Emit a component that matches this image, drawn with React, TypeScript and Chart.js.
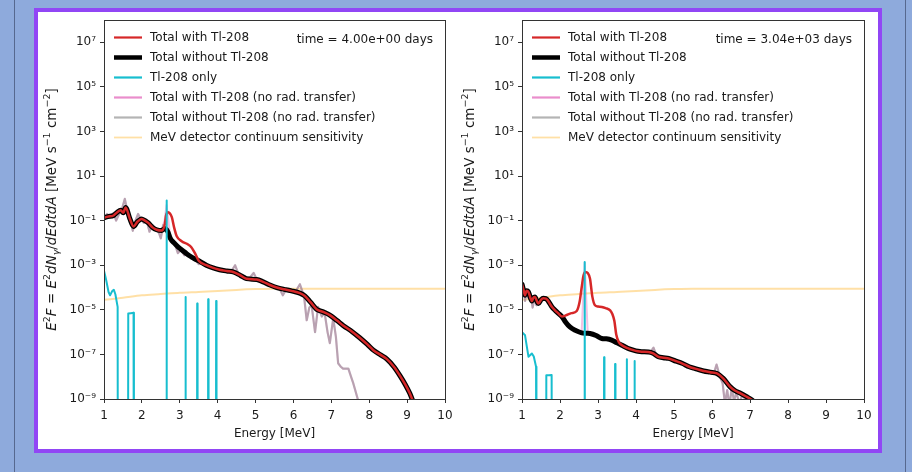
import React, { useEffect, useRef } from 'react';
import { Chart, registerables } from 'chart.js';

Chart.register(...registerables);

type Pt = [number, number];

// ---------- labels / ticks ----------
const xTickValues = [1, 2, 3, 4, 5, 6, 7, 8, 9, 10];
const yTickExponents = [-9, -7, -5, -3, -1, 1, 3, 5, 7];
const seriesLabels = [
  'Total with Tl-208',
  'Total without Tl-208',
  'Tl-208 only',
  'Total with Tl-208 (no rad. transfer)',
  'Total without Tl-208 (no rad. transfer)',
  'MeV detector continuum sensitivity',
];
const timeLabels = ['time = 4.00e+00 days', 'time = 3.04e+03 days'];
const xAxisTitle = 'Energy [MeV]';

// ---------- data: [energy MeV, E^2F] ----------
const sensitivity: Pt[] = [
  [1.0, 2.8e-5], [1.5, 3.5e-5], [2.0, 4.5e-5], [2.5, 5.1e-5], [3.0, 5.8e-5], [3.5, 6.3e-5],
  [4.0, 6.9e-5], [4.5, 7.8e-5], [5.0, 8.5e-5], [5.5, 8.9e-5], [6.0, 8.9e-5], [7.0, 8.9e-5],
  [8.0, 8.9e-5], [9.0, 8.9e-5], [10.0, 8.9e-5],
];

// Left panel (t = 4 days)
const leftTotalWith: Pt[] = [
  [1.0, 1.35e-1], [1.1, 1.51e-1], [1.25, 1.7e-1], [1.35, 2.4e-1], [1.44, 2.9e-1], [1.51, 2.24e-1],
  [1.57, 3.9e-1], [1.68, 1.26e-1], [1.78, 5.5e-2], [1.88, 8.9e-2], [1.99, 1.2e-1], [2.08, 1.0e-1],
  [2.17, 7.9e-2], [2.28, 5.0e-2], [2.39, 3.9e-2], [2.52, 3.6e-2], [2.6, 6.3e-2], [2.64, 1.78e-1],
  [2.68, 2.4e-1], [2.73, 2.2e-1], [2.79, 1.45e-1], [2.85, 5.0e-2], [2.92, 2.0e-2], [3.05, 1.2e-2],
  [3.2, 8.9e-3], [3.31, 6.3e-3], [3.4, 3.5e-3], [3.5, 1.6e-3], [3.7, 1.0e-3], [3.88, 7.6e-4],
  [4.05, 6.3e-4], [4.24, 5.5e-4], [4.41, 5.0e-4], [4.6, 3.5e-4], [4.76, 2.5e-4], [5.03, 2.3e-4],
  [5.2, 1.8e-4], [5.38, 1.3e-4], [5.56, 1.0e-4], [5.75, 8.3e-5], [5.95, 7.1e-5], [6.17, 5.6e-5],
  [6.3, 4.2e-5], [6.45, 2.2e-5], [6.61, 1.07e-5], [6.8, 7.9e-6], [6.96, 5.8e-6], [7.15, 3.3e-6],
  [7.31, 2.0e-6], [7.55, 1.05e-6], [7.75, 5.6e-7], [7.95, 2.8e-7], [8.11, 1.55e-7], [8.3, 9.5e-8],
  [8.46, 6.3e-8], [8.65, 2.8e-8], [8.81, 1.12e-8], [8.95, 4.5e-9], [9.07, 1.8e-9], [9.2, 5.0e-10],
];
const leftTotalWithout: Pt[] = [
  [1.0, 1.35e-1], [1.1, 1.51e-1], [1.25, 1.7e-1], [1.35, 2.4e-1], [1.44, 2.9e-1], [1.51, 2.24e-1],
  [1.57, 3.9e-1], [1.68, 1.26e-1], [1.78, 5.5e-2], [1.88, 8.9e-2], [1.99, 1.2e-1], [2.08, 1.0e-1],
  [2.17, 7.9e-2], [2.28, 5.0e-2], [2.39, 3.9e-2], [2.52, 3.6e-2], [2.6, 4.4e-2], [2.68, 3.3e-2],
  [2.75, 1.6e-2], [2.85, 1.0e-2], [2.96, 6.5e-3], [3.08, 4.5e-3], [3.18, 3.3e-3], [3.3, 2.4e-3],
  [3.4, 1.9e-3], [3.5, 1.6e-3], [3.7, 1.0e-3], [3.88, 7.6e-4],
  [4.05, 6.3e-4], [4.24, 5.5e-4], [4.41, 5.0e-4], [4.6, 3.5e-4], [4.76, 2.5e-4], [5.03, 2.3e-4],
  [5.2, 1.8e-4], [5.38, 1.3e-4], [5.56, 1.0e-4], [5.75, 8.3e-5], [5.95, 7.1e-5], [6.17, 5.6e-5],
  [6.3, 4.2e-5], [6.45, 2.2e-5], [6.61, 1.07e-5], [6.8, 7.9e-6], [6.96, 5.8e-6], [7.15, 3.3e-6],
  [7.31, 2.0e-6], [7.55, 1.05e-6], [7.75, 5.6e-7], [7.95, 2.8e-7], [8.11, 1.55e-7], [8.3, 9.5e-8],
  [8.46, 6.3e-8], [8.65, 2.8e-8], [8.81, 1.12e-8], [8.95, 4.5e-9], [9.07, 1.8e-9], [9.2, 5.0e-10],
];
const leftTlOnly: Pt[] = [
  [1.0, 5.6e-4], [1.05, 2.5e-4], [1.12, 6.3e-5], [1.16, 4.5e-5], [1.22, 7.1e-5], [1.26, 7.9e-5],
  [1.3, 5.0e-5], [1.36, 1.35e-5], [1.37, 1e-20], [1.63, 1e-20], [1.64, 6.8e-6], [1.71, 7.1e-6],
  [1.78, 7.4e-6], [1.79, 1e-20], [2.64, 1e-20], [2.65, 8.0e-1], [2.66, 1e-20], [3.14, 1e-20],
  [3.15, 3.8e-5], [3.16, 1e-20], [3.45, 1e-20], [3.46, 1.9e-5], [3.47, 1e-20], [3.74, 1e-20],
  [3.75, 2.95e-5], [3.76, 1e-20], [3.95, 1e-20], [3.96, 2.5e-5], [3.97, 1e-20], [10.0, 1e-20],
];
const leftWithNoRT: Pt[] = [
  [1.0, 1.12e-1], [1.08, 2.0e-1], [1.16, 1.41e-1], [1.25, 2.24e-1], [1.32, 1.0e-1], [1.4, 2.0e-1],
  [1.47, 3.16e-1], [1.55, 9.5e-1], [1.62, 2.5e-1], [1.7, 1.0e-1], [1.76, 3.5e-2], [1.83, 1.0e-1],
  [1.9, 2.0e-1], [1.98, 1.12e-1], [2.05, 7.9e-2], [2.12, 1.12e-1], [2.2, 3.2e-2], [2.28, 6.3e-2],
  [2.36, 4.5e-2], [2.45, 2.8e-2], [2.5, 1.6e-2], [2.56, 6.3e-2], [2.6, 1.0e-1], [2.65, 5.0e-1],
  [2.7, 1.0e-1], [2.74, 2.5e-2], [2.78, 1.12e-2], [2.86, 1.0e-2], [2.95, 3.5e-3], [3.03, 5.0e-3],
  [3.12, 2.8e-3], [3.2, 3.5e-3], [3.3, 2.0e-3], [3.4, 1.9e-3], [3.5, 1.12e-3], [3.6, 1.26e-3],
  [3.7, 8.9e-4], [3.85, 8.3e-4], [3.95, 6.3e-4], [4.1, 6.3e-4], [4.25, 5.0e-4], [4.35, 5.0e-4],
  [4.46, 1.0e-3], [4.55, 4.0e-4], [4.65, 3.5e-4], [4.75, 2.5e-4], [4.85, 2.8e-4], [4.95, 4.5e-4],
  [5.05, 2.0e-4], [5.15, 1.8e-4], [5.3, 1.41e-4], [5.4, 1.26e-4], [5.5, 1.0e-4], [5.62, 1.0e-4],
  [5.72, 4.5e-5], [5.82, 8.9e-5], [5.95, 7.1e-5], [6.05, 6.3e-5], [6.17, 1.41e-4], [6.28, 4.0e-5],
  [6.35, 3.4e-6], [6.42, 1.26e-5], [6.48, 1.6e-5], [6.57, 1.0e-6], [6.65, 1.35e-5], [6.75, 5.0e-6],
  [6.82, 7.9e-6], [6.9, 1.0e-6], [6.96, 3.2e-7], [7.05, 4.1e-6], [7.12, 6.3e-7], [7.18, 4.0e-8],
  [7.25, 2.8e-8], [7.31, 2.3e-8], [7.45, 2.3e-8], [7.52, 1.0e-8], [7.58, 5.0e-9], [7.68, 1.26e-9],
  [7.8, 2.5e-10],
];
const leftWithoutNoRT: Pt[] = [
  [1.0, 1.12e-1], [1.08, 2.0e-1], [1.16, 1.41e-1], [1.25, 2.24e-1], [1.32, 1.0e-1], [1.4, 2.0e-1],
  [1.47, 3.16e-1], [1.55, 9.5e-1], [1.62, 2.5e-1], [1.7, 1.0e-1], [1.76, 3.5e-2], [1.83, 1.0e-1],
  [1.9, 2.0e-1], [1.98, 1.12e-1], [2.05, 7.9e-2], [2.12, 1.12e-1], [2.2, 3.2e-2], [2.28, 6.3e-2],
  [2.36, 4.5e-2], [2.45, 2.8e-2], [2.5, 1.6e-2], [2.56, 6.3e-2], [2.62, 4.0e-2], [2.7, 3.2e-2],
  [2.78, 1.12e-2], [2.86, 1.0e-2], [2.95, 3.5e-3], [3.03, 5.0e-3],
  [3.12, 2.8e-3], [3.2, 3.5e-3], [3.3, 2.0e-3], [3.4, 1.9e-3], [3.5, 1.12e-3], [3.6, 1.26e-3],
  [3.7, 8.9e-4], [3.85, 8.3e-4], [3.95, 6.3e-4], [4.1, 6.3e-4], [4.25, 5.0e-4], [4.35, 5.0e-4],
  [4.46, 1.0e-3], [4.55, 4.0e-4], [4.65, 3.5e-4], [4.75, 2.5e-4], [4.85, 2.8e-4], [4.95, 4.5e-4],
  [5.05, 2.0e-4], [5.15, 1.8e-4], [5.3, 1.41e-4], [5.4, 1.26e-4], [5.5, 1.0e-4], [5.62, 1.0e-4],
  [5.72, 4.5e-5], [5.82, 8.9e-5], [5.95, 7.1e-5], [6.05, 6.3e-5], [6.17, 1.41e-4], [6.28, 4.0e-5],
  [6.35, 3.4e-6], [6.42, 1.26e-5], [6.48, 1.6e-5], [6.57, 1.0e-6], [6.65, 1.35e-5], [6.75, 5.0e-6],
  [6.82, 7.9e-6], [6.9, 1.0e-6], [6.96, 3.2e-7], [7.05, 4.1e-6], [7.12, 6.3e-7], [7.18, 4.0e-8],
  [7.25, 2.8e-8], [7.31, 2.3e-8], [7.45, 2.3e-8], [7.52, 1.0e-8], [7.58, 5.0e-9], [7.68, 1.26e-9],
  [7.8, 2.5e-10],
];

// Right panel (t = 3.04e3 days)
const rightTotalWith: Pt[] = [
  [1.0, 1.41e-4], [1.04, 7.9e-5], [1.08, 4.5e-5], [1.12, 7.1e-5], [1.17, 6.3e-5], [1.22, 3.5e-5],
  [1.26, 2.5e-5], [1.3, 3.5e-5], [1.34, 3.8e-5], [1.39, 2.5e-5], [1.43, 1.9e-5], [1.5, 2.8e-5],
  [1.56, 3.3e-5], [1.63, 3.2e-5], [1.69, 2.5e-5], [1.78, 1.41e-5], [1.87, 9.5e-6], [1.95, 7.1e-6],
  [2.05, 5.0e-6], [2.15, 5.6e-6], [2.3, 7.1e-6], [2.44, 8.9e-6], [2.52, 2.5e-5], [2.57, 1.0e-4],
  [2.62, 3.5e-4], [2.67, 5.0e-4], [2.73, 4.5e-4], [2.79, 2.5e-4], [2.85, 4.0e-5], [2.92, 1.6e-5],
  [3.0, 1.41e-5], [3.1, 1.35e-5], [3.2, 1.2e-5], [3.32, 9.5e-6], [3.38, 6.3e-6], [3.43, 3.2e-6],
  [3.48, 7.9e-7], [3.55, 3.5e-7], [3.63, 2.6e-7], [3.78, 1.9e-7], [3.93, 1.55e-7], [4.05, 1.38e-7],
  [4.15, 1.32e-7], [4.33, 1.29e-7], [4.45, 1.12e-7], [4.59, 7.8e-8], [4.72, 7.1e-8], [4.86, 6.6e-8],
  [5.05, 5.0e-8], [5.21, 4.0e-8], [5.4, 2.8e-8], [5.56, 2.3e-8], [5.78, 1.8e-8], [5.95, 1.6e-8],
  [6.13, 1.41e-8], [6.3, 8.3e-9], [6.48, 3.5e-9], [6.6, 2.4e-9], [6.75, 1.8e-9], [6.9, 1.3e-9],
  [7.05, 9.1e-10], [7.2, 5.0e-10],
];
const rightTotalWithout: Pt[] = [
  [1.0, 1.41e-4], [1.04, 7.9e-5], [1.08, 4.5e-5], [1.12, 7.1e-5], [1.17, 6.3e-5], [1.22, 3.5e-5],
  [1.26, 2.5e-5], [1.3, 3.5e-5], [1.34, 3.8e-5], [1.39, 2.5e-5], [1.43, 1.9e-5], [1.5, 2.8e-5],
  [1.56, 3.3e-5], [1.63, 3.2e-5], [1.69, 2.5e-5], [1.78, 1.41e-5], [1.87, 9.5e-6], [1.95, 7.1e-6],
  [2.05, 5.0e-6], [2.15, 2.8e-6], [2.26, 1.7e-6], [2.4, 1.2e-6], [2.57, 9.3e-7], [2.7, 8.9e-7],
  [2.79, 8.7e-7], [2.95, 7.1e-7], [3.1, 5.2e-7], [3.22, 5.0e-7], [3.36, 4.4e-7], [3.5, 3.3e-7],
  [3.63, 2.6e-7], [3.78, 1.9e-7], [3.93, 1.55e-7], [4.05, 1.38e-7],
  [4.15, 1.32e-7], [4.33, 1.29e-7], [4.45, 1.12e-7], [4.59, 7.8e-8], [4.72, 7.1e-8], [4.86, 6.6e-8],
  [5.05, 5.0e-8], [5.21, 4.0e-8], [5.4, 2.8e-8], [5.56, 2.3e-8], [5.78, 1.8e-8], [5.95, 1.6e-8],
  [6.13, 1.41e-8], [6.3, 8.3e-9], [6.48, 3.5e-9], [6.6, 2.4e-9], [6.75, 1.8e-9], [6.9, 1.3e-9],
  [7.05, 9.1e-10], [7.2, 5.0e-10],
];
const rightTlOnly: Pt[] = [
  [1.0, 1.0e-6], [1.08, 7.2e-7], [1.17, 7.9e-8], [1.26, 1.1e-7], [1.31, 8.0e-8], [1.37, 2.8e-8],
  [1.38, 1e-20], [1.63, 1e-20], [1.64, 1.17e-8], [1.71, 1.17e-8], [1.78, 1.2e-8], [1.79, 1e-20],
  [2.64, 1e-20], [2.65, 1.38e-3], [2.66, 1e-20], [3.15, 1e-20], [3.16, 7.4e-8], [3.17, 1e-20],
  [3.44, 1e-20], [3.45, 3.7e-8], [3.46, 1e-20], [3.75, 1e-20], [3.76, 6.0e-8], [3.77, 1e-20],
  [3.95, 1e-20], [3.96, 5.0e-8], [3.97, 1e-20], [10.0, 1e-20],
];
const rightWithNoRT: Pt[] = [
  [1.0, 5.0e-5], [1.04, 1.26e-4], [1.08, 2.5e-5], [1.13, 7.9e-5], [1.18, 3.2e-5], [1.23, 5.0e-5],
  [1.28, 1.26e-5], [1.33, 3.2e-5], [1.38, 1.6e-5], [1.45, 2.0e-5], [1.52, 3.2e-5], [1.6, 3.5e-5],
  [1.68, 2.0e-5], [1.75, 1.8e-5], [1.82, 1.0e-5], [1.9, 8.9e-6], [2.0, 5.0e-6], [2.1, 3.5e-6],
  [2.2, 2.0e-6], [2.3, 1.6e-6], [2.45, 1.12e-6], [2.57, 1.0e-6], [2.65, 1.3e-3], [2.73, 8.9e-7],
  [2.9, 7.9e-7], [3.05, 5.6e-7], [3.2, 5.0e-7], [3.3, 5.0e-7], [3.4, 4.0e-7], [3.55, 3.2e-7],
  [3.65, 2.8e-7], [3.8, 2.0e-7], [3.95, 1.6e-7], [4.1, 1.41e-7], [4.25, 1.41e-7], [4.38, 1.26e-7],
  [4.46, 2.0e-7], [4.55, 7.9e-8], [4.7, 7.9e-8], [4.85, 6.3e-8], [5.0, 5.6e-8], [5.1, 5.0e-8],
  [5.25, 3.5e-8], [5.4, 2.8e-8], [5.5, 2.2e-8], [5.6, 2.5e-8], [5.72, 1.8e-8], [5.85, 1.6e-8],
  [5.95, 1.8e-8], [6.05, 1.41e-8], [6.12, 3.5e-8], [6.2, 1.12e-8], [6.28, 5.0e-9], [6.34, 6.3e-10],
  [6.4, 2.5e-9], [6.46, 5.0e-10], [6.52, 3.2e-9], [6.58, 7.9e-10], [6.64, 2.0e-9], [6.72, 6.3e-10],
  [6.8, 1.6e-9], [6.9, 7.9e-10], [7.0, 5.0e-10],
];
const rightWithoutNoRT: Pt[] = [
  [1.0, 5.0e-5], [1.04, 1.26e-4], [1.08, 2.5e-5], [1.13, 7.9e-5], [1.18, 3.2e-5], [1.23, 5.0e-5],
  [1.28, 1.26e-5], [1.33, 3.2e-5], [1.38, 1.6e-5], [1.45, 2.0e-5], [1.52, 3.2e-5], [1.6, 3.5e-5],
  [1.68, 2.0e-5], [1.75, 1.8e-5], [1.82, 1.0e-5], [1.9, 8.9e-6], [2.0, 5.0e-6], [2.1, 3.5e-6],
  [2.2, 2.0e-6], [2.3, 1.6e-6], [2.45, 1.12e-6], [2.6, 8.9e-7], [2.75, 8.9e-7],
  [2.9, 7.9e-7], [3.05, 5.6e-7], [3.2, 5.0e-7], [3.3, 5.0e-7], [3.4, 4.0e-7], [3.55, 3.2e-7],
  [3.65, 2.8e-7], [3.8, 2.0e-7], [3.95, 1.6e-7], [4.1, 1.41e-7], [4.25, 1.41e-7], [4.38, 1.26e-7],
  [4.46, 2.0e-7], [4.55, 7.9e-8], [4.7, 7.9e-8], [4.85, 6.3e-8], [5.0, 5.6e-8], [5.1, 5.0e-8],
  [5.25, 3.5e-8], [5.4, 2.8e-8], [5.5, 2.2e-8], [5.6, 2.5e-8], [5.72, 1.8e-8], [5.85, 1.6e-8],
  [5.95, 1.8e-8], [6.05, 1.41e-8], [6.12, 3.5e-8], [6.2, 1.12e-8], [6.28, 5.0e-9], [6.34, 6.3e-10],
  [6.4, 2.5e-9], [6.46, 5.0e-10], [6.52, 3.2e-9], [6.58, 7.9e-10], [6.64, 2.0e-9], [6.72, 6.3e-10],
  [6.8, 1.6e-9], [6.9, 7.9e-10], [7.0, 5.0e-10],
];

// ---------- styling ----------
const FONT = '"DejaVu Sans", sans-serif';
const TEXT_COLOR = '#1a1a1a';
const AXIS_COLOR = '#333333';

const seriesStyles = [
  { color: '#d62728', legendColor: '#d62728', width: 2.5, legendWidth: 2.2, order: 1, smooth: true },
  { color: '#000000', legendColor: '#000000', width: 5, legendWidth: 4.5, order: 2, smooth: true },
  { color: '#17becf', legendColor: '#17becf', width: 2, legendWidth: 2.2, order: 0, smooth: false },
  { color: 'rgba(227,119,194,0.45)', legendColor: '#ea8dcc', width: 2, legendWidth: 2.2, order: 4, smooth: false },
  { color: 'rgba(127,127,127,0.5)', legendColor: '#b4b4b4', width: 2.2, legendWidth: 2.2, order: 3, smooth: false },
  { color: 'rgba(255,165,0,0.35)', legendColor: 'rgba(255,165,0,0.35)', width: 2, legendWidth: 1.8, order: 5, smooth: true },
];

const SUP: Record<string, string> = {
  '-': '\u207B', '0': '\u2070', '1': '\u00B9', '2': '\u00B2', '3': '\u00B3',
  '4': '\u2074', '5': '\u2075', '6': '\u2076', '7': '\u2077', '8': '\u2078', '9': '\u2079',
};
const toSup = (n: number) => String(n).split('').map((c) => SUP[c] ?? c).join('');

type Seg = { t: string; it?: boolean; sup?: boolean; sub?: boolean };
const yTitleSegs: Seg[] = [
  { t: 'E', it: true }, { t: '2', sup: true }, { t: 'F', it: true }, { t: ' = ' },
  { t: 'E', it: true }, { t: '2', sup: true }, { t: 'dN', it: true }, { t: '\u03B3', it: true, sub: true },
  { t: '/' }, { t: 'dEdtdA', it: true }, { t: ' [MeV s' }, { t: '\u22121', sup: true },
  { t: ' cm' }, { t: '\u22122', sup: true }, { t: ']' },
];

const decorPlugin = {
  id: 'decor',
  afterDraw(chart: any, _args: any, opts: any) {
    const { ctx, chartArea: a } = chart;
    ctx.save();
    // frame
    ctx.strokeStyle = AXIS_COLOR;
    ctx.lineWidth = 1;
    ctx.strokeRect(Math.round(a.left) + 0.5, Math.round(a.top) + 0.5, Math.round(a.right - a.left), Math.round(a.bottom - a.top));

    // legend
    ctx.font = `12px ${FONT}`;
    ctx.textBaseline = 'middle';
    ctx.textAlign = 'left';
    seriesLabels.forEach((lab, i) => {
      const st = seriesStyles[i];
      const y = a.top + 17.5 + i * 20;
      ctx.strokeStyle = st.legendColor;
      ctx.lineWidth = st.legendWidth;
      ctx.lineCap = 'butt';
      ctx.beginPath();
      ctx.moveTo(a.left + 10, y);
      ctx.lineTo(a.left + 38, y);
      ctx.stroke();
      ctx.fillStyle = TEXT_COLOR;
      ctx.fillText(lab, a.left + 46, y);
    });

    // time text
    ctx.textAlign = 'right';
    ctx.fillText(opts.time, a.right - 12, a.top + 20);

    // y title (rich text, rotated)
    const base = 13.5;
    const fontFor = (s: Seg) => `${s.it ? 'italic ' : ''}${s.sup || s.sub ? base * 0.7 : base}px ${FONT}`;
    let total = 0;
    const widths = yTitleSegs.map((s) => {
      ctx.font = fontFor(s);
      const w = ctx.measureText(s.t).width;
      total += w;
      return w;
    });
    ctx.translate(a.left - 48, (a.top + a.bottom) / 2);
    ctx.rotate(-Math.PI / 2);
    ctx.textAlign = 'left';
    ctx.textBaseline = 'alphabetic';
    let x = -total / 2;
    yTitleSegs.forEach((s, i) => {
      ctx.font = fontFor(s);
      const dy = s.sup ? -base * 0.42 : s.sub ? base * 0.22 : 0;
      ctx.fillText(s.t, x, dy);
      x += widths[i];
    });
    ctx.restore();
  },
};

type PanelCfg = { series: Pt[][]; time: string; left: number; yWidth: number; rightPad: number };

const panels: PanelCfg[] = [
  {
    series: [leftTotalWith, leftTotalWithout, leftTlOnly, leftWithNoRT, leftWithoutNoRT, sensitivity],
    time: timeLabels[0], left: 38, yWidth: 66, rightPad: 13,
  },
  {
    series: [rightTotalWith, rightTotalWithout, rightTlOnly, rightWithNoRT, rightWithoutNoRT, sensitivity],
    time: timeLabels[1], left: 458, yWidth: 64, rightPad: 14,
  },
];

function Panel({ cfg }: { cfg: PanelCfg }) {
  const ref = useRef<HTMLCanvasElement>(null);
  useEffect(() => {
    if (!ref.current) return;
    const tickFont = { family: FONT, size: 12 };
    const chart = new Chart(ref.current, {
      type: 'line',
      data: {
        datasets: cfg.series.map((pts, i) => ({
          label: seriesLabels[i],
          data: pts.map(([x, y]) => ({ x, y })),
          borderColor: seriesStyles[i].color,
          backgroundColor: seriesStyles[i].color,
          borderWidth: seriesStyles[i].width,
          order: seriesStyles[i].order,
          pointRadius: 0,
          fill: false,
          clip: 0,
          borderJoinStyle: 'round',
          borderCapStyle: 'round',
          cubicInterpolationMode: seriesStyles[i].smooth ? 'monotone' : 'default',
          tension: 0,
        })) as any,
      },
      options: {
        responsive: false,
        animation: false,
        events: [],
        layout: { padding: { left: 0, right: cfg.rightPad, top: 8, bottom: 0 } },
        plugins: {
          legend: { display: false },
          tooltip: { enabled: false },
          decor: { time: cfg.time },
        } as any,
        scales: {
          x: {
            type: 'linear',
            min: 1,
            max: 10,
            afterFit: (s: any) => { s.height = 50; s.paddingLeft = 0; s.paddingRight = 0; },
            afterBuildTicks: (s: any) => { s.ticks = xTickValues.map((v) => ({ value: v })); },
            ticks: { font: tickFont, color: TEXT_COLOR, padding: 6, autoSkip: false, maxRotation: 0 },
            grid: { drawOnChartArea: false, drawTicks: true, tickLength: 4, color: AXIS_COLOR },
            border: { display: false },
            title: { display: true, text: xAxisTitle, font: tickFont, color: TEXT_COLOR, padding: { top: 0, bottom: 8 } },
          },
          y: {
            type: 'logarithmic',
            min: 1e-9,
            max: 1e8,
            afterFit: (s: any) => { s.width = cfg.yWidth; s.paddingTop = 0; s.paddingBottom = 0; },
            afterBuildTicks: (s: any) => { s.ticks = yTickExponents.map((e) => ({ value: Math.pow(10, e) })); },
            ticks: {
              font: tickFont,
              color: TEXT_COLOR,
              padding: 4,
              autoSkip: false,
              callback: (v: any) => '10' + toSup(Math.round(Math.log10(Number(v)))),
            },
            grid: { drawOnChartArea: false, drawTicks: true, tickLength: 4, color: AXIS_COLOR },
            border: { display: false },
          },
        },
      } as any,
      plugins: [decorPlugin],
    });
    return () => chart.destroy();
  }, [cfg]);
  return (
    <canvas
      ref={ref}
      width={420}
      height={437}
      style={{ position: 'absolute', left: cfg.left, top: 12, width: 420, height: 437 }}
    />
  );
}

export default function App() {
  return (
    <div
      style={{
        position: 'fixed', left: 0, top: 0, width: 912, height: 472,
        background: '#8eaadc', overflow: 'hidden', fontFamily: FONT,
      }}
    >
      <div style={{ position: 'absolute', left: 14, top: 0, width: 1, height: 472, background: '#56688f' }} />
      <div style={{ position: 'absolute', left: 905, top: 0, width: 1, height: 472, background: '#56688f' }} />
      <div
        style={{
          position: 'absolute', left: 34, top: 8, width: 848, height: 445,
          boxSizing: 'border-box', border: '4px solid #9146f5', background: '#ffffff',
        }}
      />
      {panels.map((p, i) => (
        <Panel key={i} cfg={p} />
      ))}
    </div>
  );
}
